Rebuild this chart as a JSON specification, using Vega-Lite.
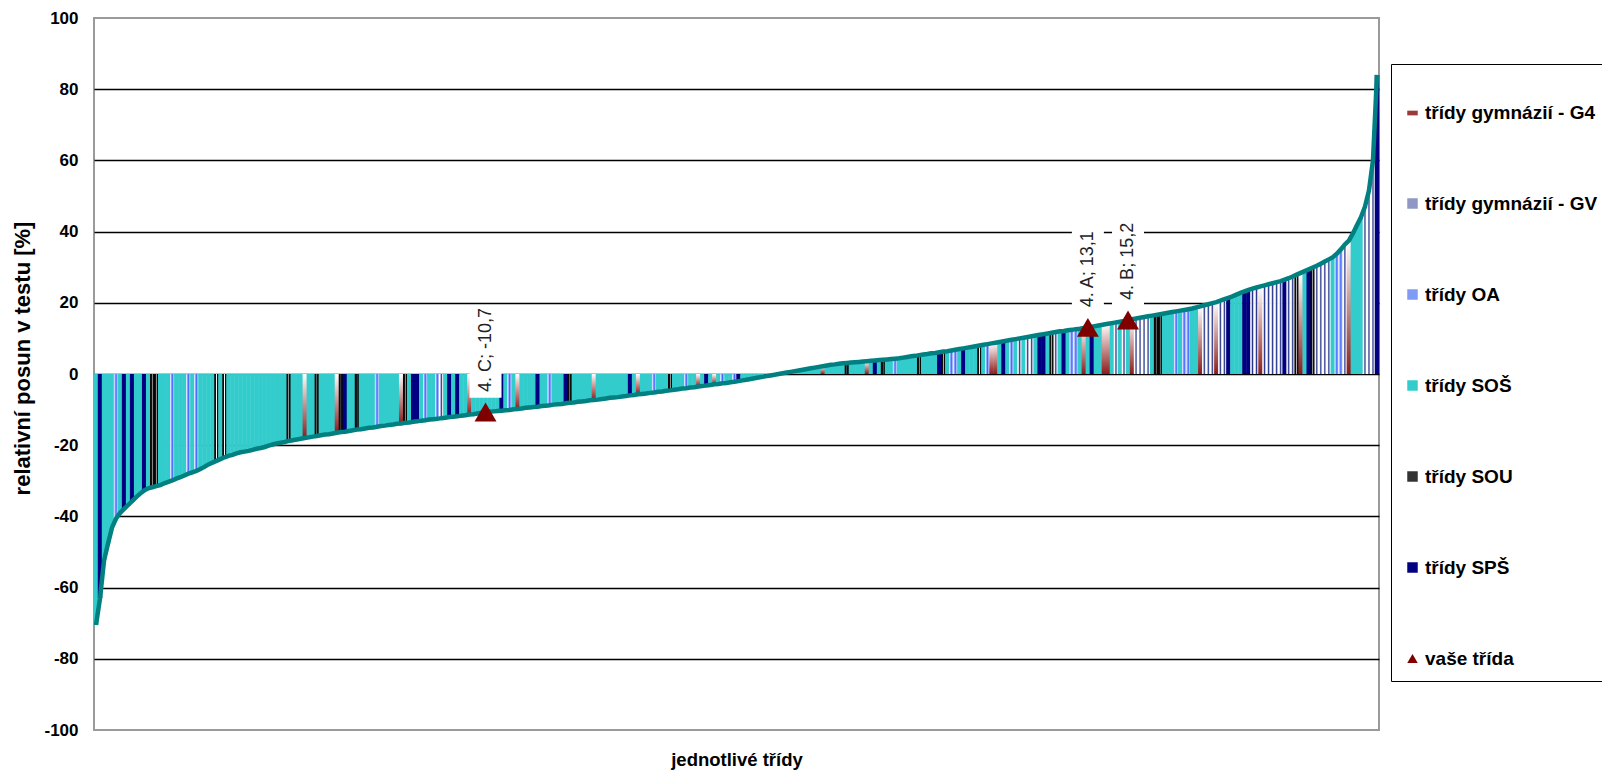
{
  "$schema": "https://vega.github.io/schema/vega-lite/v6.json",
  "width": 1285,
  "height": 712,
  "autosize": {"type": "none"},
  "padding": {"left": 94, "top": 18, "right": 223, "bottom": 46},
  "background": "white",
  "config": {
    "font": "Liberation Sans",
    "view": {"stroke": "#9a9a9a", "strokeWidth": 2}
  },
  "data": {"values": [
{"i":0,"posun":-70.5,"typ":"SOŠ"},{"i":1,"posun":-63.0,"typ":"SPŠ"},{"i":2,"posun":-52.4,"typ":"SOŠ"},{"i":3,"posun":-47.6,"typ":"SOŠ"},{"i":4,"posun":-43.1,"typ":"SOŠ"},{"i":5,"posun":-40.6,"typ":"OA"},{"i":6,"posun":-39.0,"typ":"SOŠ"},{"i":7,"posun":-37.9,"typ":"SPŠ"},{"i":8,"posun":-36.8,"typ":"SOŠ"},{"i":9,"posun":-35.7,"typ":"SPŠ"},
{"i":10,"posun":-34.6,"typ":"SOŠ"},{"i":11,"posun":-33.6,"typ":"SOŠ"},{"i":12,"posun":-32.7,"typ":"SPŠ"},{"i":13,"posun":-32.1,"typ":"SOŠ"},{"i":14,"posun":-31.8,"typ":"SOU"},{"i":15,"posun":-31.5,"typ":"SOU"},{"i":16,"posun":-31.2,"typ":"SOŠ"},{"i":17,"posun":-30.7,"typ":"SOŠ"},{"i":18,"posun":-30.3,"typ":"SOŠ"},{"i":19,"posun":-29.9,"typ":"OA"},
{"i":20,"posun":-29.4,"typ":"SOŠ"},{"i":21,"posun":-29.0,"typ":"SOŠ"},{"i":22,"posun":-28.5,"typ":"SOŠ"},{"i":23,"posun":-28.0,"typ":"OA"},{"i":24,"posun":-27.6,"typ":"SOŠ"},{"i":25,"posun":-27.2,"typ":"OA"},{"i":26,"posun":-26.7,"typ":"SOŠ"},{"i":27,"posun":-26.1,"typ":"SOŠ"},{"i":28,"posun":-25.4,"typ":"SOŠ"},{"i":29,"posun":-24.9,"typ":"SOŠ"},
{"i":30,"posun":-24.4,"typ":"SOU"},{"i":31,"posun":-23.9,"typ":"SOŠ"},{"i":32,"posun":-23.4,"typ":"SOU"},{"i":33,"posun":-23.0,"typ":"SOŠ"},{"i":34,"posun":-22.7,"typ":"SOŠ"},{"i":35,"posun":-22.3,"typ":"SOŠ"},{"i":36,"posun":-22.0,"typ":"SOŠ"},{"i":37,"posun":-21.8,"typ":"SOŠ"},{"i":38,"posun":-21.6,"typ":"SOŠ"},{"i":39,"posun":-21.3,"typ":"SOŠ"},
{"i":40,"posun":-21.0,"typ":"SOŠ"},{"i":41,"posun":-20.8,"typ":"SOŠ"},{"i":42,"posun":-20.5,"typ":"SOŠ"},{"i":43,"posun":-20.1,"typ":"SOŠ"},{"i":44,"posun":-19.8,"typ":"SOŠ"},{"i":45,"posun":-19.5,"typ":"SOŠ"},{"i":46,"posun":-19.3,"typ":"SOŠ"},{"i":47,"posun":-19.1,"typ":"SOŠ"},{"i":48,"posun":-18.8,"typ":"SOU"},{"i":49,"posun":-18.6,"typ":"SOŠ"},
{"i":50,"posun":-18.4,"typ":"SOŠ"},{"i":51,"posun":-18.2,"typ":"SOŠ"},{"i":52,"posun":-18.0,"typ":"G4"},{"i":53,"posun":-17.8,"typ":"SOŠ"},{"i":54,"posun":-17.6,"typ":"SOŠ"},{"i":55,"posun":-17.4,"typ":"SOU"},{"i":56,"posun":-17.2,"typ":"SOŠ"},{"i":57,"posun":-17.0,"typ":"SOŠ"},{"i":58,"posun":-16.9,"typ":"SOŠ"},{"i":59,"posun":-16.7,"typ":"SOŠ"},
{"i":60,"posun":-16.5,"typ":"G4"},{"i":61,"posun":-16.3,"typ":"SOU"},{"i":62,"posun":-16.2,"typ":"SPŠ"},{"i":63,"posun":-16.0,"typ":"SOŠ"},{"i":64,"posun":-15.8,"typ":"SOŠ"},{"i":65,"posun":-15.6,"typ":"SOU"},{"i":66,"posun":-15.5,"typ":"SOŠ"},{"i":67,"posun":-15.3,"typ":"SOŠ"},{"i":68,"posun":-15.1,"typ":"SOŠ"},{"i":69,"posun":-15.0,"typ":"SOŠ"},
{"i":70,"posun":-14.8,"typ":"OA"},{"i":71,"posun":-14.6,"typ":"SOŠ"},{"i":72,"posun":-14.5,"typ":"SOŠ"},{"i":73,"posun":-14.3,"typ":"SOŠ"},{"i":74,"posun":-14.2,"typ":"SOŠ"},{"i":75,"posun":-14.0,"typ":"SOŠ"},{"i":76,"posun":-13.9,"typ":"G4"},{"i":77,"posun":-13.7,"typ":"SOU"},{"i":78,"posun":-13.6,"typ":"SOŠ"},{"i":79,"posun":-13.4,"typ":"SPŠ"},
{"i":80,"posun":-13.3,"typ":"SPŠ"},{"i":81,"posun":-13.1,"typ":"SOŠ"},{"i":82,"posun":-13.0,"typ":"OA"},{"i":83,"posun":-12.8,"typ":"SOŠ"},{"i":84,"posun":-12.7,"typ":"SOŠ"},{"i":85,"posun":-12.6,"typ":"OA"},{"i":86,"posun":-12.4,"typ":"GV"},{"i":87,"posun":-12.3,"typ":"SOŠ"},{"i":88,"posun":-12.1,"typ":"SPŠ"},{"i":89,"posun":-12.0,"typ":"SOŠ"},
{"i":90,"posun":-11.9,"typ":"SPŠ"},{"i":91,"posun":-11.7,"typ":"SOŠ"},{"i":92,"posun":-11.6,"typ":"SOŠ"},{"i":93,"posun":-11.4,"typ":"G4"},{"i":94,"posun":-11.3,"typ":"SOŠ"},{"i":95,"posun":-11.1,"typ":"SOŠ"},{"i":96,"posun":-10.9,"typ":"SOŠ"},{"i":97,"posun":-10.7,"typ":"SOŠ","popisek":"4. C; -10,7"},{"i":98,"posun":-10.6,"typ":"SOŠ"},{"i":99,"posun":-10.5,"typ":"SOŠ"},
{"i":100,"posun":-10.4,"typ":"SOŠ"},{"i":101,"posun":-10.3,"typ":"SPŠ"},{"i":102,"posun":-10.2,"typ":"SOŠ"},{"i":103,"posun":-10.1,"typ":"OA"},{"i":104,"posun":-9.9,"typ":"SOŠ"},{"i":105,"posun":-9.8,"typ":"G4"},{"i":106,"posun":-9.7,"typ":"SOŠ"},{"i":107,"posun":-9.5,"typ":"SOŠ"},{"i":108,"posun":-9.4,"typ":"SOŠ"},{"i":109,"posun":-9.3,"typ":"SOŠ"},
{"i":110,"posun":-9.2,"typ":"SPŠ"},{"i":111,"posun":-9.0,"typ":"SOŠ"},{"i":112,"posun":-8.9,"typ":"SOŠ"},{"i":113,"posun":-8.8,"typ":"OA"},{"i":114,"posun":-8.6,"typ":"SOŠ"},{"i":115,"posun":-8.5,"typ":"SOŠ"},{"i":116,"posun":-8.4,"typ":"SOŠ"},{"i":117,"posun":-8.2,"typ":"SPŠ"},{"i":118,"posun":-8.1,"typ":"SOU"},{"i":119,"posun":-8.0,"typ":"SOŠ"},
{"i":120,"posun":-7.8,"typ":"SOŠ"},{"i":121,"posun":-7.7,"typ":"SOŠ"},{"i":122,"posun":-7.6,"typ":"SOŠ"},{"i":123,"posun":-7.4,"typ":"SOŠ"},{"i":124,"posun":-7.3,"typ":"G4"},{"i":125,"posun":-7.2,"typ":"SOŠ"},{"i":126,"posun":-7.0,"typ":"SOŠ"},{"i":127,"posun":-6.9,"typ":"SOŠ"},{"i":128,"posun":-6.7,"typ":"SOŠ"},{"i":129,"posun":-6.6,"typ":"SOŠ"},
{"i":130,"posun":-6.5,"typ":"SOŠ"},{"i":131,"posun":-6.3,"typ":"SOŠ"},{"i":132,"posun":-6.2,"typ":"SOŠ"},{"i":133,"posun":-6.0,"typ":"SPŠ"},{"i":134,"posun":-5.9,"typ":"SOŠ"},{"i":135,"posun":-5.7,"typ":"G4"},{"i":136,"posun":-5.6,"typ":"SOŠ"},{"i":137,"posun":-5.5,"typ":"SOŠ"},{"i":138,"posun":-5.3,"typ":"SOŠ"},{"i":139,"posun":-5.2,"typ":"OA"},
{"i":140,"posun":-5.0,"typ":"SOŠ"},{"i":141,"posun":-4.9,"typ":"SOŠ"},{"i":142,"posun":-4.7,"typ":"SOŠ"},{"i":143,"posun":-4.6,"typ":"SOU"},{"i":144,"posun":-4.4,"typ":"SOŠ"},{"i":145,"posun":-4.3,"typ":"SOŠ"},{"i":146,"posun":-4.1,"typ":"SOŠ"},{"i":147,"posun":-4.0,"typ":"OA"},{"i":148,"posun":-3.8,"typ":"SOŠ"},{"i":149,"posun":-3.7,"typ":"SOŠ"},
{"i":150,"posun":-3.5,"typ":"G4"},{"i":151,"posun":-3.4,"typ":"SOŠ"},{"i":152,"posun":-3.2,"typ":"SPŠ"},{"i":153,"posun":-3.1,"typ":"SOŠ"},{"i":154,"posun":-2.9,"typ":"G4"},{"i":155,"posun":-2.8,"typ":"SOŠ"},{"i":156,"posun":-2.6,"typ":"OA"},{"i":157,"posun":-2.5,"typ":"SOŠ"},{"i":158,"posun":-2.3,"typ":"SOŠ"},{"i":159,"posun":-2.2,"typ":"OA"},
{"i":160,"posun":-2.0,"typ":"SPŠ"},{"i":161,"posun":-1.8,"typ":"SOŠ"},{"i":162,"posun":-1.6,"typ":"SOŠ"},{"i":163,"posun":-1.4,"typ":"SOŠ"},{"i":164,"posun":-1.2,"typ":"SOŠ"},{"i":165,"posun":-1.0,"typ":"SOŠ"},{"i":166,"posun":-0.8,"typ":"SOŠ"},{"i":167,"posun":-0.6,"typ":"SPŠ"},{"i":168,"posun":-0.4,"typ":"SOŠ"},{"i":169,"posun":-0.2,"typ":"SOŠ"},
{"i":170,"posun":0.0,"typ":"SOŠ"},{"i":171,"posun":0.2,"typ":"SOŠ"},{"i":172,"posun":0.4,"typ":"SOŠ"},{"i":173,"posun":0.6,"typ":"SOŠ"},{"i":174,"posun":0.8,"typ":"SOŠ"},{"i":175,"posun":1.0,"typ":"SOŠ"},{"i":176,"posun":1.2,"typ":"SOŠ"},{"i":177,"posun":1.4,"typ":"SOŠ"},{"i":178,"posun":1.6,"typ":"SOŠ"},{"i":179,"posun":1.8,"typ":"SOŠ"},
{"i":180,"posun":2.0,"typ":"SOŠ"},{"i":181,"posun":2.2,"typ":"G4"},{"i":182,"posun":2.4,"typ":"SOŠ"},{"i":183,"posun":2.6,"typ":"SOŠ"},{"i":184,"posun":2.7,"typ":"SOŠ"},{"i":185,"posun":2.9,"typ":"SOŠ"},{"i":186,"posun":3.0,"typ":"SOŠ"},{"i":187,"posun":3.1,"typ":"SOU"},{"i":188,"posun":3.2,"typ":"SOŠ"},{"i":189,"posun":3.3,"typ":"SOŠ"},
{"i":190,"posun":3.4,"typ":"SOŠ"},{"i":191,"posun":3.5,"typ":"SOŠ"},{"i":192,"posun":3.6,"typ":"G4"},{"i":193,"posun":3.7,"typ":"SOŠ"},{"i":194,"posun":3.8,"typ":"SPŠ"},{"i":195,"posun":3.9,"typ":"SOŠ"},{"i":196,"posun":4.0,"typ":"SOU"},{"i":197,"posun":4.1,"typ":"SOŠ"},{"i":198,"posun":4.2,"typ":"SOŠ"},{"i":199,"posun":4.3,"typ":"OA"},
{"i":200,"posun":4.4,"typ":"SOŠ"},{"i":201,"posun":4.6,"typ":"SOŠ"},{"i":202,"posun":4.8,"typ":"SOŠ"},{"i":203,"posun":5.0,"typ":"SOŠ"},{"i":204,"posun":5.1,"typ":"SOŠ"},{"i":205,"posun":5.3,"typ":"SOU"},{"i":206,"posun":5.5,"typ":"SOŠ"},{"i":207,"posun":5.6,"typ":"SOŠ"},{"i":208,"posun":5.8,"typ":"SOŠ"},{"i":209,"posun":5.9,"typ":"SOŠ"},
{"i":210,"posun":6.1,"typ":"SPŠ"},{"i":211,"posun":6.3,"typ":"SOU"},{"i":212,"posun":6.4,"typ":"SOŠ"},{"i":213,"posun":6.6,"typ":"OA"},{"i":214,"posun":6.8,"typ":"OA"},{"i":215,"posun":7.0,"typ":"SOŠ"},{"i":216,"posun":7.2,"typ":"SPŠ"},{"i":217,"posun":7.4,"typ":"SOŠ"},{"i":218,"posun":7.6,"typ":"SOŠ"},{"i":219,"posun":7.8,"typ":"SOŠ"},
{"i":220,"posun":8.0,"typ":"SOU"},{"i":221,"posun":8.2,"typ":"SOŠ"},{"i":222,"posun":8.4,"typ":"OA"},{"i":223,"posun":8.6,"typ":"G4"},{"i":224,"posun":8.8,"typ":"G4"},{"i":225,"posun":9.0,"typ":"SOŠ"},{"i":226,"posun":9.2,"typ":"SPŠ"},{"i":227,"posun":9.4,"typ":"SOŠ"},{"i":228,"posun":9.6,"typ":"OA"},{"i":229,"posun":9.8,"typ":"SOŠ"},
{"i":230,"posun":10.0,"typ":"GV"},{"i":231,"posun":10.2,"typ":"SOŠ"},{"i":232,"posun":10.4,"typ":"GV"},{"i":233,"posun":10.6,"typ":"GV"},{"i":234,"posun":10.8,"typ":"SOŠ"},{"i":235,"posun":11.0,"typ":"SPŠ"},{"i":236,"posun":11.2,"typ":"SPŠ"},{"i":237,"posun":11.4,"typ":"SOŠ"},{"i":238,"posun":11.6,"typ":"SOU"},{"i":239,"posun":11.8,"typ":"GV"},
{"i":240,"posun":12.0,"typ":"SOŠ"},{"i":241,"posun":12.1,"typ":"SPŠ"},{"i":242,"posun":12.3,"typ":"SOŠ"},{"i":243,"posun":12.4,"typ":"OA"},{"i":244,"posun":12.6,"typ":"OA"},{"i":245,"posun":12.7,"typ":"SOŠ"},{"i":246,"posun":12.9,"typ":"G4"},{"i":247,"posun":13.1,"typ":"SOŠ","popisek":"4. A; 13,1"},{"i":248,"posun":13.3,"typ":"SPŠ"},{"i":249,"posun":13.5,"typ":"SOŠ"},
{"i":250,"posun":13.7,"typ":"SOŠ"},{"i":251,"posun":13.9,"typ":"G4"},{"i":252,"posun":14.1,"typ":"G4"},{"i":253,"posun":14.3,"typ":"SOŠ"},{"i":254,"posun":14.5,"typ":"GV"},{"i":255,"posun":14.7,"typ":"SOŠ"},{"i":256,"posun":14.9,"typ":"GV"},{"i":257,"posun":15.2,"typ":"SOŠ","popisek":"4. B; 15,2"},{"i":258,"posun":15.4,"typ":"G4"},{"i":259,"posun":15.6,"typ":"GV"},
{"i":260,"posun":15.8,"typ":"GV"},{"i":261,"posun":16.0,"typ":"GV"},{"i":262,"posun":16.2,"typ":"GV"},{"i":263,"posun":16.4,"typ":"SOŠ"},{"i":264,"posun":16.6,"typ":"SOU"},{"i":265,"posun":16.8,"typ":"SOU"},{"i":266,"posun":17.0,"typ":"SOŠ"},{"i":267,"posun":17.2,"typ":"SOŠ"},{"i":268,"posun":17.4,"typ":"SOŠ"},{"i":269,"posun":17.6,"typ":"OA"},
{"i":270,"posun":17.8,"typ":"SOŠ"},{"i":271,"posun":18.0,"typ":"OA"},{"i":272,"posun":18.2,"typ":"OA"},{"i":273,"posun":18.4,"typ":"SOŠ"},{"i":274,"posun":18.7,"typ":"SOŠ"},{"i":275,"posun":19.0,"typ":"G4"},{"i":276,"posun":19.3,"typ":"GV"},{"i":277,"posun":19.6,"typ":"GV"},{"i":278,"posun":19.9,"typ":"GV"},{"i":279,"posun":20.2,"typ":"G4"},
{"i":280,"posun":20.6,"typ":"GV"},{"i":281,"posun":21.0,"typ":"GV"},{"i":282,"posun":21.4,"typ":"SPŠ"},{"i":283,"posun":21.8,"typ":"SOŠ"},{"i":284,"posun":22.3,"typ":"SOŠ"},{"i":285,"posun":22.8,"typ":"SOŠ"},{"i":286,"posun":23.2,"typ":"SPŠ"},{"i":287,"posun":23.6,"typ":"SPŠ"},{"i":288,"posun":24.0,"typ":"GV"},{"i":289,"posun":24.3,"typ":"GV"},
{"i":290,"posun":24.6,"typ":"G4"},{"i":291,"posun":24.9,"typ":"GV"},{"i":292,"posun":25.2,"typ":"GV"},{"i":293,"posun":25.5,"typ":"GV"},{"i":294,"posun":25.8,"typ":"GV"},{"i":295,"posun":26.1,"typ":"GV"},{"i":296,"posun":26.5,"typ":"SPŠ"},{"i":297,"posun":26.9,"typ":"GV"},{"i":298,"posun":27.4,"typ":"GV"},{"i":299,"posun":27.9,"typ":"SOU"},
{"i":300,"posun":28.4,"typ":"G4"},{"i":301,"posun":28.9,"typ":"SOŠ"},{"i":302,"posun":29.4,"typ":"SPŠ"},{"i":303,"posun":29.9,"typ":"SOU"},{"i":304,"posun":30.4,"typ":"GV"},{"i":305,"posun":31.0,"typ":"GV"},{"i":306,"posun":31.6,"typ":"GV"},{"i":307,"posun":32.2,"typ":"GV"},{"i":308,"posun":32.8,"typ":"SOŠ"},{"i":309,"posun":33.8,"typ":"OA"},
{"i":310,"posun":35.0,"typ":"OA"},{"i":311,"posun":36.4,"typ":"GV"},{"i":312,"posun":37.5,"typ":"G4"},{"i":313,"posun":39.5,"typ":"SOŠ"},{"i":314,"posun":41.8,"typ":"SOŠ"},{"i":315,"posun":44.0,"typ":"SOŠ"},{"i":316,"posun":47.0,"typ":"GV"},{"i":317,"posun":51.5,"typ":"GV"},{"i":318,"posun":60.0,"typ":"GV"},{"i":319,"posun":84.0,"typ":"SPŠ"}
  ]},
  "layer": [
    {
      "mark": {"type": "bar", "width": {"band": 1.12}},
      "encoding": {
        "x": {"field": "i", "type": "ordinal", "scale": {"paddingInner": 0, "paddingOuter": 0}, "axis": {"title": "jednotlivé třídy", "labels": false, "ticks": false, "domain": false, "grid": false, "titleFontSize": 18.5, "titleFontWeight": "bold", "titleColor": "#000000", "titlePadding": 20}},
        "y": {"field": "posun", "type": "quantitative", "scale": {"domain": [-100, 100], "nice": false}, "axis": {"title": "relativní posun v testu [%]", "values": [-100, -80, -60, -40, -20, 0, 20, 40, 60, 80, 100], "labelExpr": "replace(datum.label, '−', '-')", "grid": true, "gridColor": {"condition": {"test": "abs(datum.value) === 100", "value": "transparent"}, "value": "#000000"}, "gridWidth": 1.5, "domain": false, "ticks": false, "labelPadding": 16, "labelFontSize": 17, "labelFontWeight": "bold", "labelColor": "#000000", "titleFontSize": 22, "titleFontWeight": "bold", "titleColor": "#000000", "titleX": -72, "titleY": 340, "titleAlign": "center", "titleBaseline": "middle"}},
        "color": {
          "condition": [
            {"test": "datum.typ === 'SPŠ'", "value": "#000080"},
            {"test": "datum.typ === 'SOU'", "value": {"gradient": "linear", "x1": 0, "y1": 0, "x2": 1, "y2": 0, "stops": [{"offset": 0, "color": "#000000"}, {"offset": 0.38, "color": "#111111"}, {"offset": 0.5, "color": "#ffffff"}, {"offset": 0.62, "color": "#111111"}, {"offset": 1, "color": "#000000"}]}},
            {"test": "datum.typ === 'OA'", "value": {"gradient": "linear", "x1": 0, "y1": 0, "x2": 1, "y2": 0, "stops": [{"offset": 0, "color": "#ffffff"}, {"offset": 0.5, "color": "#3f66ff"}, {"offset": 1, "color": "#ffffff"}]}},
            {"test": "datum.typ === 'GV'", "value": {"gradient": "linear", "x1": 0, "y1": 0, "x2": 1, "y2": 0, "stops": [{"offset": 0, "color": "#ffffff"}, {"offset": 0.2, "color": "#ffffff"}, {"offset": 0.5, "color": "#26358a"}, {"offset": 0.8, "color": "#ffffff"}, {"offset": 1, "color": "#ffffff"}]}},
            {"test": "datum.typ === 'G4'", "value": {"gradient": "linear", "x1": 0, "y1": 0, "x2": 0, "y2": 1, "stops": [{"offset": 0, "color": "#ffffff"}, {"offset": 1, "color": "#8b1c1c"}]}}
          ],
          "value": "#33cccc"
        }
      }
    },
    {
      "transform": [{"filter": "isValid(datum.popisek)"}, {"calculate": "datum.posun + 4", "as": "box_od"}, {"calculate": "datum.posun + 29", "as": "box_do"}],
      "mark": {"type": "bar", "width": 32, "color": "#ffffff"},
      "encoding": {
        "x": {"field": "i", "type": "ordinal"},
        "y": {"field": "box_od", "type": "quantitative"},
        "y2": {"field": "box_do"}
      }
    },
    {
      "mark": {"type": "line", "color": "#008080", "strokeWidth": 4.5},
      "encoding": {
        "x": {"field": "i", "type": "ordinal"},
        "y": {"field": "posun", "type": "quantitative"}
      }
    },
    {
      "transform": [{"filter": "isValid(datum.popisek)"}, {"calculate": "'vaše třída'", "as": "skupina"}],
      "mark": {"type": "point", "shape": "triangle-up", "filled": true, "size": 480, "opacity": 1},
      "encoding": {
        "x": {"field": "i", "type": "ordinal"},
        "y": {"field": "posun", "type": "quantitative"},
        "color": {
          "field": "skupina", "type": "nominal",
          "scale": {
            "domain": ["třídy gymnázií - G4", "třídy gymnázií - GV", "třídy OA", "třídy SOŠ", "třídy SOU", "třídy SPŠ", "vaše třída"],
            "range": ["#9b3a3a", "#8f98c4", "#7f9cf5", "#33cccc", "#333333", "#000080", "#800000"]
          },
          "legend": {
            "title": " ", "titleFontSize": 18, "titlePadding": 9,
            "orient": "none", "legendX": 1297, "legendY": 46,
            "padding": 12, "strokeColor": "#000000", "fillColor": "#ffffff",
            "labelFont": "Liberation Sans", "labelFontSize": 19, "labelFontWeight": "bold", "labelColor": "#000000", "labelLimit": 400, "labelOffset": 3,
            "symbolSize": 110, "symbolOpacity": 1, "symbolStrokeWidth": 0, "rowPadding": 71,
            "encode": {"symbols": {"update": {"shape": {"signal": "datum.value === 'vaše třída' ? 'triangle-up' : datum.value === 'třídy gymnázií - G4' ? 'M-1,-0.35H1V0.55H-1Z' : 'square'"}}}}
          }
        }
      }
    },
    {
      "transform": [{"filter": "isValid(datum.popisek)"}],
      "mark": {"type": "text", "angle": 270, "align": "left", "baseline": "middle", "dx": 20, "fontSize": 18, "font": "Liberation Sans", "color": "#222222"},
      "encoding": {
        "x": {"field": "i", "type": "ordinal"},
        "y": {"field": "posun", "type": "quantitative"},
        "text": {"field": "popisek"}
      }
    }
  ]
}
